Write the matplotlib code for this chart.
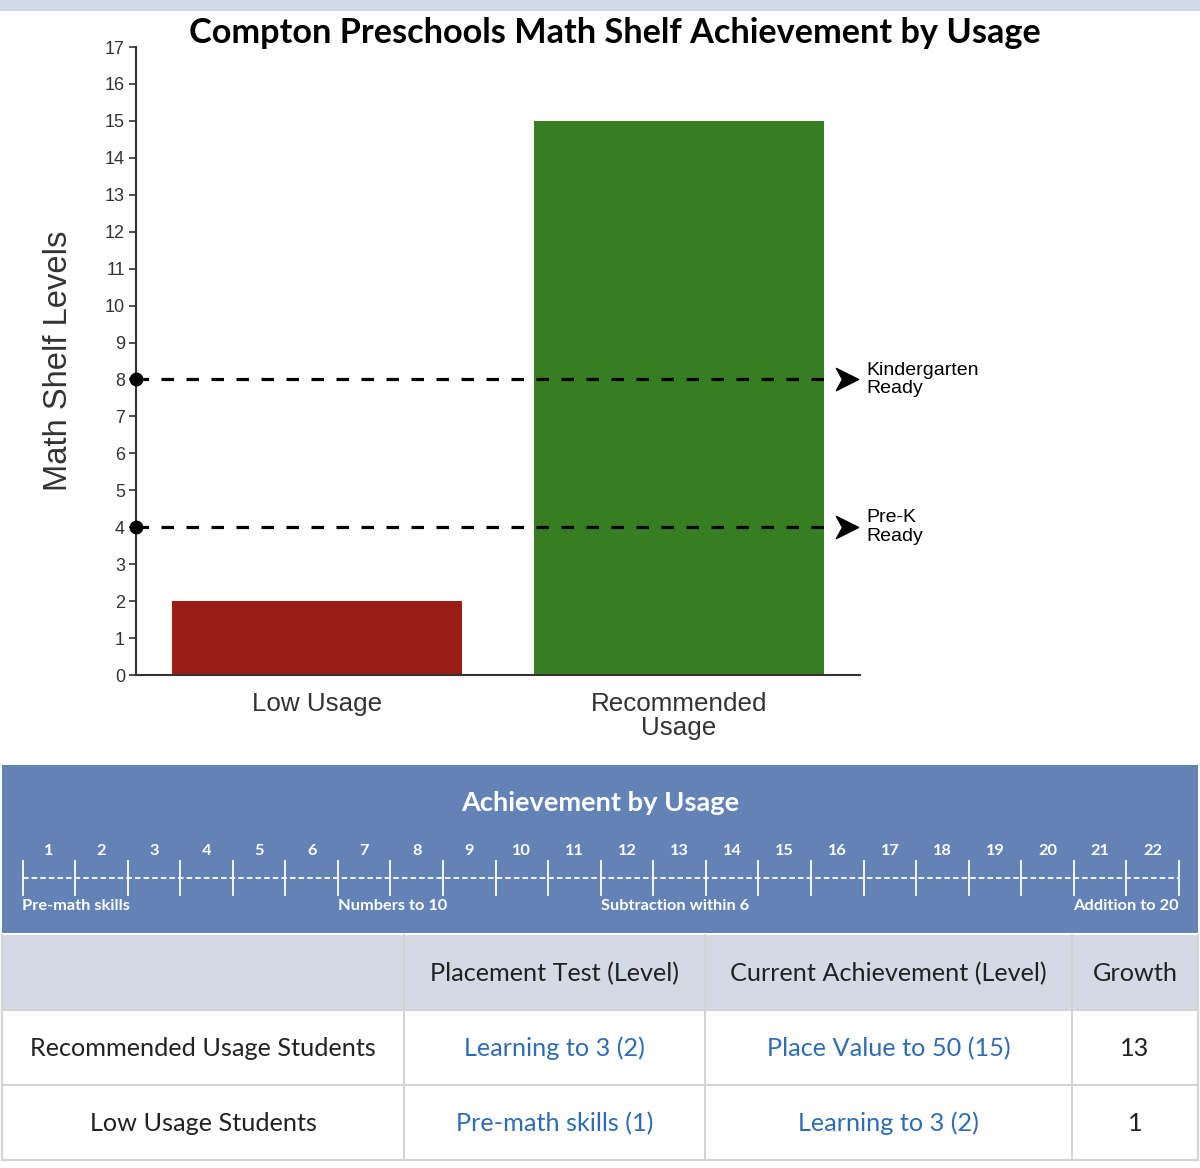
import matplotlib
matplotlib.use("Agg")
import matplotlib.pyplot as plt
from matplotlib.patches import Rectangle
from matplotlib.path import Path
import numpy as np

# ---------------- data ----------------
categories = ["Low Usage", "Recommended\nUsage"]
levels = [2, 15]
bar_colors = ["#9b1e16", "#377e22"]

benchmark_levels = [8, 4]
benchmark_labels = ["Kindergarten\nReady", "Pre-K\nReady"]

y_ticks = list(range(0, 18))

ruler_levels = list(range(1, 23))
strand_names = ["Pre-math skills", "Numbers to 10", "Subtraction within 6", "Addition to 20"]
strand_start = [1, 7, 12, 23]

table_header = ["", "Placement Test (Level)", "Current Achievement (Level)", "Growth"]
row_labels = ["Recommended Usage Students", "Low Usage Students"]
placement = ["Learning to 3 (2)", "Pre-math skills (1)"]
current = ["Place Value to 50 (15)", "Learning to 3 (2)"]
growth = [13, 1]

# ---------------- figure ----------------
W, H = 1200, 1168
plt.rcParams["lines.scale_dashes"] = False
fig = plt.figure(figsize=(W / 100, H / 100), dpi=100)

# overlay axes in pixel coords
ov = fig.add_axes([0, 0, 1, 1], zorder=0)
ov.set_xlim(0, W)
ov.set_ylim(H, 0)
ov.axis("off")

# top strip
ov.add_patch(Rectangle((0, 0), W, 11, color="#d3dbe6", lw=0))

# ---------------- bar chart ----------------
ax_l, ax_r, ax_t, ax_b = 136, 860, 47, 675
ax = fig.add_axes([ax_l / W, 1 - ax_b / H, (ax_r - ax_l) / W, (ax_b - ax_t) / H], zorder=2)
ax.patch.set_alpha(0)
x = np.arange(len(categories))
ax.bar(x, levels, width=0.8, color=bar_colors, zorder=1)
ax.set_xlim(-0.5, 1.5)
ax.set_ylim(0, 17)
ax.set_yticks(y_ticks)
ax.tick_params(axis="y", direction="out", length=5, width=1.2, color="#333333",
               labelsize=13, labelcolor="#333333", pad=3)
for lab in ax.get_yticklabels():
    lab.set_family("Liberation Sans")
ax.set_xticks(x)
ax.set_xticklabels(categories, fontsize=18.7, color="#333333", family="Liberation Sans",
                   linespacing=1.0)
ax.tick_params(axis="x", length=0, pad=12)
for s in ["top", "right"]:
    ax.spines[s].set_visible(False)
for s in ["left", "bottom"]:
    ax.spines[s].set_color("#333333")
    ax.spines[s].set_linewidth(1.5)
ax.set_ylabel("Math Shelf Levels", fontsize=23.6, color="#333333", family="Liberation Sans",
              labelpad=22)

arrow_path = Path([(-1, 1), (1, 0), (-1, -1), (-0.45, 0), (-1, 1)],
                  [Path.MOVETO, Path.LINETO, Path.LINETO, Path.LINETO, Path.CLOSEPOLY])
x_end = 1.43
for lvl, lab in zip(benchmark_levels, benchmark_labels):
    ax.plot([-0.5, x_end], [lvl, lvl], color="black", lw=2.3, dashes=(9, 9),
            zorder=3, clip_on=False)
    ax.plot([-0.5], [lvl], marker="o", markersize=9, color="black", zorder=4, clip_on=False)
    ax.plot([1.464], [lvl], marker=arrow_path, markersize=16, color="black",
            zorder=4, clip_on=False)
    ax.text(1.518, lvl, lab, fontsize=14, family="Liberation Sans", color="black",
            va="center", ha="left", linespacing=1.12)

fig.text(615 / W, 1 - 33 / H, "Compton Preschools Math Shelf Achievement by Usage",
         fontsize=24.7, fontweight="bold", family="Lato", ha="center", va="center",
         color="black")

# ---------------- achievement panel ----------------
blue = "#6382b6"
ov.add_patch(Rectangle((2, 765), 1196, 168, color=blue, lw=0))
ov.text(600, 803, "Achievement by Usage", fontsize=19.6, fontweight="bold", family="Lato",
        color="white", ha="center", va="center")

r0, r1 = 22.5, 1179.0
step = (r1 - r0) / len(ruler_levels)
bounds = [r0 + i * step for i in range(len(ruler_levels) + 1)]
ov.plot([r0, r1], [878, 878], color="white", lw=1.3, dashes=(4, 2.2))
for b in bounds:
    ov.plot([b, b], [861, 895], color="white", lw=1.3)
for lv in ruler_levels:
    cx = r0 + (lv - 0.5) * step
    ov.text(cx, 851, str(lv), fontsize=11.8, fontweight="bold", family="Lato",
            color="white", ha="center", va="center")
for name, st in zip(strand_names, strand_start):
    xb = r0 + (st - 1) * step
    ha = "left" if st <= len(ruler_levels) else "right"
    ov.text(xb, 906, name, fontsize=11.8, fontweight="bold", family="Lato",
            color="white", ha=ha, va="center")

# ---------------- table ----------------
col_edges = [2, 404, 705, 1072, 1198]
row_edges = [935, 1010, 1085, 1160]
grid_c = "#d4d4d4"
ov.add_patch(Rectangle((2, row_edges[0]), 1196, row_edges[1] - row_edges[0],
                       color="#d3dae6", lw=0))
for yy in row_edges[1:]:
    ov.plot([2, 1198], [yy, yy], color=grid_c, lw=1.5)
for xx in col_edges:
    ov.plot([xx, xx], [row_edges[0], row_edges[-1]], color=grid_c, lw=1.5)

link = "#2f6cb5"
txt = "#222222"
fs = 18.2
centers = [(col_edges[i] + col_edges[i + 1]) / 2 for i in range(4)]
ycen = [(row_edges[i] + row_edges[i + 1]) / 2 + 1 for i in range(3)]
for c, h in zip(centers, table_header):
    ov.text(c, ycen[0], h, fontsize=fs, family="Lato", color=txt, ha="center", va="center")
for i in range(len(row_labels)):
    y = ycen[i + 1]
    ov.text(centers[0], y, row_labels[i], fontsize=fs, family="Lato", color=txt,
            ha="center", va="center")
    ov.text(centers[1], y, placement[i], fontsize=fs, family="Lato", color=link,
            ha="center", va="center")
    ov.text(centers[2], y, current[i], fontsize=fs, family="Lato", color=link,
            ha="center", va="center")
    ov.text(centers[3], y, str(growth[i]), fontsize=fs, family="Lato", color=txt,
            ha="center", va="center")

fig.savefig("out.png", dpi=100)
